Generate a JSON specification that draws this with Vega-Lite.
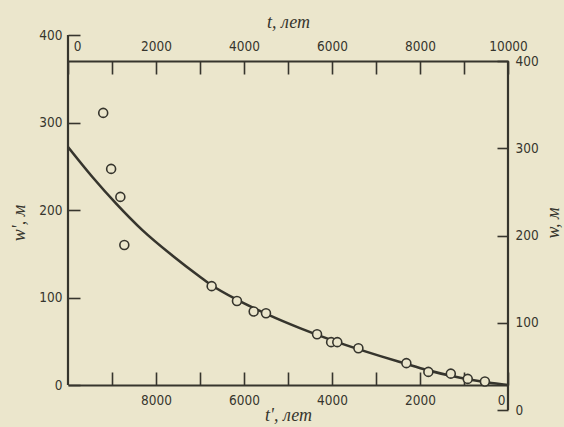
{
  "$schema": "https://vega.github.io/schema/vega-lite/v6.json",
  "width": 440,
  "height": 375,
  "autosize": "none",
  "padding": {"left": 68, "top": 35, "right": 56, "bottom": 17},
  "background": "#ebe6cc",
  "config": {
    "view": {"stroke": null},
    "axis": {
      "grid": false,
      "labelFont": "DejaVu Sans Condensed, Roboto, sans-serif",
      "labelFontSize": 13.5,
      "labelColor": "#36352d",
      "tickColor": "#36352d",
      "tickWidth": 1.6,
      "domainColor": "#36352d",
      "domainWidth": 2.2,
      "titleFont": "Liberation Serif",
      "titleFontStyle": "italic",
      "titleFontWeight": "normal",
      "titleFontSize": 18,
      "titleColor": "#36352d"
    }
  },
  "datasets": {
    "obs": [
      {"tp": 9200, "wp": 311}, {"tp": 9020, "wp": 247}, {"tp": 8810, "wp": 215}, {"tp": 8720, "wp": 160},
      {"tp": 6735, "wp": 113}, {"tp": 6160, "wp": 96}, {"tp": 5780, "wp": 84}, {"tp": 5500, "wp": 82},
      {"tp": 4340, "wp": 58}, {"tp": 4020, "wp": 49}, {"tp": 3880, "wp": 49}, {"tp": 3400, "wp": 42},
      {"tp": 2310, "wp": 25}, {"tp": 1810, "wp": 15}, {"tp": 1300, "wp": 13}, {"tp": 915, "wp": 7},
      {"tp": 525, "wp": 4}
    ],
    "curve": [
      {"tp": 10000, "wp": 272}, {"tp": 9450, "wp": 238}, {"tp": 8900, "wp": 207}, {"tp": 8310, "wp": 177},
      {"tp": 7630, "wp": 148}, {"tp": 7010, "wp": 124}, {"tp": 6735, "wp": 114}, {"tp": 6140, "wp": 97},
      {"tp": 5480, "wp": 81}, {"tp": 4730, "wp": 65}, {"tp": 3880, "wp": 49}, {"tp": 2900, "wp": 33},
      {"tp": 2370, "wp": 25}, {"tp": 1830, "wp": 17}, {"tp": 1300, "wp": 10.5}, {"tp": 845, "wp": 6},
      {"tp": 460, "wp": 2.8}, {"tp": 0, "wp": 0}
    ],
    "leftAxis": [{"tp": 10000, "wp": 0, "wp2": 400}],
    "rightAxis": [{"t": 10000, "w": 0, "w2": 400}]
  },
  "layer": [
    {
      "encoding": {
        "x": {
          "field": "tp", "type": "quantitative",
          "scale": {"domain": [0, 10000], "reverse": true, "nice": false, "zero": false},
          "axis": {
            "orient": "bottom", "offset": -25, "title": "t', лет",
            "values": [0, 1000, 2000, 3000, 4000, 5000, 6000, 7000, 8000, 9000],
            "format": "d",
            "labelExpr": "datum.value % 2000 == 0 ? datum.label : ''",
            "tickSize": -13, "labelPadding": 21, "titlePadding": 0,
            "labelFlush": false,
            "labelOffset": {"condition": {"test": "datum.value === 0", "value": -7}, "value": 0}
          }
        },
        "y": {
          "field": "wp", "type": "quantitative",
          "scale": {"domain": [-28.57, 400], "nice": false, "zero": false},
          "axis": {
            "orient": "left", "title": "w', м", "domain": false,
            "values": [0, 100, 200, 300, 400],
            "tickSize": -12, "labelPadding": 18, "titlePadding": 10
          }
        }
      },
      "layer": [
        {
          "data": {"name": "leftAxis"},
          "mark": {"type": "rule", "color": "#36352d", "strokeWidth": 2.2},
          "encoding": {"y2": {"field": "wp2"}}
        },
        {
          "data": {"name": "curve"},
          "mark": {"type": "line", "color": "#36352d", "strokeWidth": 2.6, "interpolate": "monotone"}
        },
        {
          "data": {"name": "obs"},
          "mark": {"type": "point", "shape": "circle", "size": 80, "filled": false, "fill": "#ebe6cc", "fillOpacity": 1, "stroke": "#36352d", "strokeWidth": 1.6, "opacity": 1}
        }
      ]
    },
    {
      "data": {"name": "rightAxis"},
      "mark": {"type": "rule", "color": "#36352d", "strokeWidth": 2.2},
      "encoding": {
        "x": {
          "field": "t", "type": "quantitative",
          "scale": {"domain": [0, 10000], "nice": false, "zero": false},
          "axis": {
            "orient": "top", "offset": -26, "title": "t, лет",
            "values": [0, 1000, 2000, 3000, 4000, 5000, 6000, 7000, 8000, 9000, 10000],
            "format": "d",
            "labelExpr": "datum.value % 2000 == 0 ? datum.label : ''",
            "tickSize": -13, "labelPadding": 21, "titlePadding": 8,
            "labelFlush": false,
            "labelOffset": {"condition": {"test": "datum.value === 0", "value": 9}, "value": 0}
          }
        },
        "y": {
          "field": "w", "type": "quantitative",
          "scale": {"domain": [0, 429.8], "nice": false, "zero": false},
          "axis": {
            "orient": "right", "title": "w, м", "domain": false, "titleAngle": 270,
            "values": [0, 100, 200, 300, 400],
            "tickSize": -11, "labelPadding": 18, "titlePadding": 24
          }
        },
        "y2": {"field": "w2"}
      }
    }
  ],
  "resolve": {
    "scale": {"x": "independent", "y": "independent"},
    "axis": {"x": "independent", "y": "independent"}
  }
}
